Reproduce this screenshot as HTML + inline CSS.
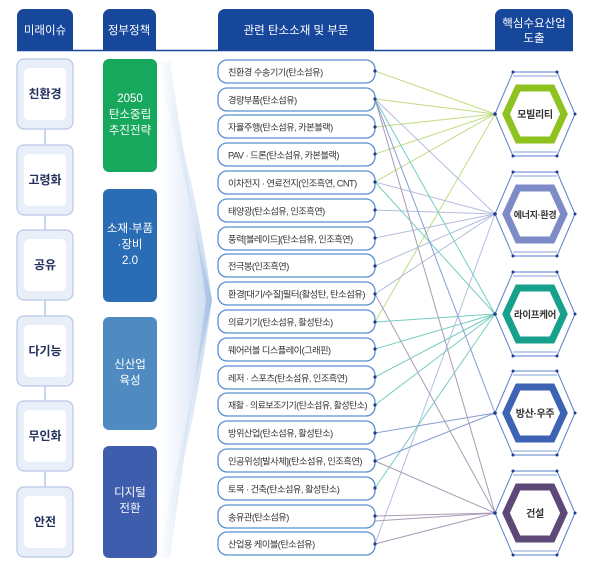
<!DOCTYPE html>
<html><head><meta charset="utf-8"><style>
html,body{margin:0;padding:0;background:#fff;}
svg{display:block;}
text{font-family:"Liberation Sans","Noto Sans CJK KR",sans-serif;}
</style></head><body>
<svg width="600" height="587" viewBox="0 0 600 587" xmlns="http://www.w3.org/2000/svg">
<defs>
<linearGradient id="ar" x1="0" x2="1" y1="0" y2="0">
<stop offset="0" stop-color="#ffffff"/><stop offset="0.5" stop-color="#dce7f5"/><stop offset="1" stop-color="#9fbde2"/>
</linearGradient>
<g id="hexo">
<polygon points="-40,0 -22,-42 22,-42 40,0 22,42 -22,42" fill="none" stroke="#5b7fc8" stroke-width="1"/>
<line x1="-22" y1="-38" x2="22" y2="-38" stroke="#5b7fc8" stroke-width="0.8"/>
<line x1="-22" y1="38" x2="22" y2="38" stroke="#5b7fc8" stroke-width="0.8"/>
<g fill="#1d3f8f"><circle cx="-22" cy="-42" r="1.5"/><circle cx="22" cy="-42" r="1.5"/><circle cx="-22" cy="42" r="1.5"/><circle cx="22" cy="42" r="1.5"/><circle cx="40" cy="0" r="1.5"/><circle cx="-40" cy="0" r="1.8"/></g>
</g>
</defs>
<g fill="#17479a">
<path d="M17,50 V16 a7,7 0 0 1 7,-7 H66 a7,7 0 0 1 7,7 V50Z"/>
<path d="M103,50 V16 a7,7 0 0 1 7,-7 H149 a7,7 0 0 1 7,7 V50Z"/>
<path d="M218,50 V16 a7,7 0 0 1 7,-7 H367 a7,7 0 0 1 7,7 V50Z"/>
<path d="M495,50 V16 a7,7 0 0 1 7,-7 H566 a7,7 0 0 1 7,7 V50Z"/>
</g>
<line x1="17" y1="50.5" x2="573" y2="50.5" stroke="#17479a" stroke-width="1.5"/>
<g fill="#fff" font-size="11.5" text-anchor="middle">
<text x="45" y="34">미래이슈</text>
<text x="129" y="34">정부정책</text>
<text x="296" y="34">관련 탄소소재 및 부문</text>
<text x="534" y="27">핵심수요산업</text>
<text x="534" y="42">도출</text>
</g>
<path d="M158,62 L212,300 L158,558 L170,558 L206,300 L170,62Z" fill="url(#ar)" opacity="0.9"/>
<path d="M160,62 C190,160 205,250 212,300 C205,350 190,450 160,558 Z" fill="url(#ar)" opacity="0.6"/>
<line x1="45" y1="100" x2="45" y2="520" stroke="#b9c8e6" stroke-width="1.5"/>
<g stroke="#b9c8e6" stroke-width="1.2">
<rect x="17" y="59" width="56" height="70" rx="7" fill="#e9eff9"/>
<rect x="17" y="145" width="56" height="70" rx="7" fill="#e9eff9"/>
<rect x="17" y="230" width="56" height="70" rx="7" fill="#e9eff9"/>
<rect x="17" y="316" width="56" height="70" rx="7" fill="#e9eff9"/>
<rect x="17" y="401" width="56" height="70" rx="7" fill="#e9eff9"/>
<rect x="17" y="487" width="56" height="70" rx="7" fill="#e9eff9"/>
</g>
<g fill="#fff">
<rect x="24" y="68" width="42" height="52" rx="5"/>
<rect x="24" y="154" width="42" height="52" rx="5"/>
<rect x="24" y="239" width="42" height="52" rx="5"/>
<rect x="24" y="325" width="42" height="52" rx="5"/>
<rect x="24" y="410" width="42" height="52" rx="5"/>
<rect x="24" y="496" width="42" height="52" rx="5"/>
</g>
<g fill="#24305e" font-size="12" font-weight="bold" text-anchor="middle">
<text x="45" y="98">친환경</text>
<text x="45" y="184">고령화</text>
<text x="45" y="269">공유</text>
<text x="45" y="355">다기능</text>
<text x="45" y="440">무인화</text>
<text x="45" y="526">안전</text>
</g>
<rect x="103" y="59" width="54" height="113" rx="6" fill="#17a85e"/>
<rect x="103" y="189" width="54" height="113" rx="6" fill="#2a6db4"/>
<rect x="103" y="317" width="54" height="113" rx="6" fill="#4f8bc1"/>
<rect x="103" y="446" width="54" height="112" rx="6" fill="#3e5ead"/>
<g fill="#fff" font-size="11.5" text-anchor="middle">
<text x="130" y="102">2050</text><text x="130" y="118">탄소중립</text><text x="130" y="134">추진전략</text>
<text x="130" y="232">소재·부품</text><text x="130" y="248">·장비</text><text x="130" y="264">2.0</text>
<text x="130" y="368">신산업</text><text x="130" y="384">육성</text>
<text x="130" y="496">디지털</text><text x="130" y="512">전환</text>
</g>
<g stroke-width="1" fill="none" opacity="0.85">
<g stroke="#b5d56a">
<line x1="375" y1="71" x2="495" y2="114"/><line x1="375" y1="99" x2="495" y2="114"/>
<line x1="375" y1="127" x2="495" y2="114"/><line x1="375" y1="154" x2="495" y2="114"/>
<line x1="375" y1="182" x2="495" y2="114"/><line x1="375" y1="322" x2="495" y2="114"/>
</g>
<g stroke="#a8b2d8">
<line x1="375" y1="99" x2="495" y2="214"/><line x1="375" y1="182" x2="495" y2="214"/>
<line x1="375" y1="210" x2="495" y2="214"/><line x1="375" y1="238" x2="495" y2="214"/>
<line x1="375" y1="266" x2="495" y2="214"/><line x1="375" y1="294" x2="495" y2="214"/>
<line x1="375" y1="544" x2="495" y2="214"/>
</g>
<g stroke="#5cc5b5">
<line x1="375" y1="99" x2="495" y2="314"/><line x1="375" y1="182" x2="495" y2="314"/>
<line x1="375" y1="322" x2="495" y2="314"/><line x1="375" y1="349" x2="495" y2="314"/>
<line x1="375" y1="377" x2="495" y2="314"/><line x1="375" y1="405" x2="495" y2="314"/>
<line x1="375" y1="488" x2="495" y2="314"/>
</g>
<g stroke="#6f8ccc">
<line x1="375" y1="99" x2="495" y2="413"/><line x1="375" y1="433" x2="495" y2="413"/>
<line x1="375" y1="461" x2="495" y2="413"/>
</g>
<g stroke="#9d8aab">
<line x1="375" y1="99" x2="495" y2="513"/><line x1="375" y1="294" x2="495" y2="513"/>
<line x1="375" y1="461" x2="495" y2="513"/><line x1="375" y1="516" x2="495" y2="513"/>
<line x1="375" y1="521" x2="495" y2="513"/><line x1="375" y1="544" x2="495" y2="513"/>
</g>
</g>
<g fill="#fff" stroke="#5b8fd0" stroke-width="1.3">
<rect x="218" y="60" width="157" height="23" rx="9"/>
<rect x="218" y="88" width="157" height="23" rx="9"/>
<rect x="218" y="115" width="157" height="23" rx="9"/>
<rect x="218" y="143" width="157" height="23" rx="9"/>
<rect x="218" y="171" width="157" height="23" rx="9"/>
<rect x="218" y="199" width="157" height="23" rx="9"/>
<rect x="218" y="227" width="157" height="23" rx="9"/>
<rect x="218" y="254" width="157" height="23" rx="9"/>
<rect x="218" y="282" width="157" height="23" rx="9"/>
<rect x="218" y="310" width="157" height="23" rx="9"/>
<rect x="218" y="338" width="157" height="23" rx="9"/>
<rect x="218" y="366" width="157" height="23" rx="9"/>
<rect x="218" y="393" width="157" height="23" rx="9"/>
<rect x="218" y="421" width="157" height="23" rx="9"/>
<rect x="218" y="449" width="157" height="23" rx="9"/>
<rect x="218" y="477" width="157" height="23" rx="9"/>
<rect x="218" y="505" width="157" height="23" rx="9"/>
<rect x="218" y="532" width="157" height="23" rx="9"/>
</g>
<g fill="#333" font-size="9.2" letter-spacing="-0.5">
<text x="228" y="75.5">친환경 수송기기(탄소섬유)</text>
<text x="228" y="103.5">경량부품(탄소섬유)</text>
<text x="228" y="130.5">자율주행(탄소섬유, 카본블랙)</text>
<text x="228" y="158.5">PAV · 드론(탄소섬유, 카본블랙)</text>
<text x="228" y="186.5">이차전지 · 연료전지(인조흑연, CNT)</text>
<text x="228" y="214.5">태양광(탄소섬유, 인조흑연)</text>
<text x="228" y="242.5">풍력[블레이드](탄소섬유, 인조흑연)</text>
<text x="228" y="269.5">전극봉(인조흑연)</text>
<text x="228" y="297.5" textLength="137" lengthAdjust="spacingAndGlyphs">환경[대기/수질]필터(활성탄, 탄소섬유)</text>
<text x="228" y="325.5">의료기기(탄소섬유, 활성탄소)</text>
<text x="228" y="353.5">웨어러블 디스플레이(그래핀)</text>
<text x="228" y="381.5">레저 · 스포츠(탄소섬유, 인조흑연)</text>
<text x="228" y="408.5" textLength="139" lengthAdjust="spacingAndGlyphs">재활 · 의료보조기기(탄소섬유, 활성탄소)</text>
<text x="228" y="436.5">방위산업(탄소섬유, 활성탄소)</text>
<text x="228" y="464.5" textLength="134" lengthAdjust="spacingAndGlyphs">인공위성[발사체](탄소섬유, 인조흑연)</text>
<text x="228" y="492.5">토목 · 건축(탄소섬유, 활성탄소)</text>
<text x="228" y="520.5">송유관(탄소섬유)</text>
<text x="228" y="547.5">산업용 케이블(탄소섬유)</text>
</g>
<g fill="#1d3f8f">
<circle cx="375" cy="71" r="1.6"/><circle cx="375" cy="99" r="1.6"/><circle cx="375" cy="127" r="1.6"/>
<circle cx="375" cy="154" r="1.6"/><circle cx="375" cy="182" r="1.6"/><circle cx="375" cy="210" r="1.6"/>
<circle cx="375" cy="238" r="1.6"/><circle cx="375" cy="266" r="1.6"/><circle cx="375" cy="294" r="1.6"/>
<circle cx="375" cy="322" r="1.6"/><circle cx="375" cy="349" r="1.6"/><circle cx="375" cy="377" r="1.6"/>
<circle cx="375" cy="405" r="1.6"/><circle cx="375" cy="433" r="1.6"/><circle cx="375" cy="461" r="1.6"/>
<circle cx="375" cy="488" r="1.6"/><circle cx="375" cy="516" r="1.6"/><circle cx="375" cy="544" r="1.6"/>
</g>
<g font-size="10" font-weight="bold" fill="#333" text-anchor="middle" letter-spacing="-0.3">
<g transform="translate(535,114)"><use href="#hexo"/>
<polygon points="-29,0 -17,-26 17,-26 29,0 17,26 -17,26" fill="#fff" stroke="#8dc21f" stroke-width="7"/>
<text x="0" y="4">모빌리티</text></g>
<g transform="translate(535,214)"><use href="#hexo"/>
<polygon points="-29,0 -17,-26 17,-26 29,0 17,26 -17,26" fill="#fff" stroke="#7d8cc6" stroke-width="7"/>
<text x="0" y="4" font-size="9">에너지·환경</text></g>
<g transform="translate(535,314)"><use href="#hexo"/>
<polygon points="-29,0 -17,-26 17,-26 29,0 17,26 -17,26" fill="#fff" stroke="#17a08c" stroke-width="7"/>
<text x="0" y="4" font-size="9.5">라이프케어</text></g>
<g transform="translate(535,413)"><use href="#hexo"/>
<polygon points="-29,0 -17,-26 17,-26 29,0 17,26 -17,26" fill="#fff" stroke="#3e63b5" stroke-width="7"/>
<text x="0" y="4">방산·우주</text></g>
<g transform="translate(535,513)"><use href="#hexo"/>
<polygon points="-29,0 -17,-26 17,-26 29,0 17,26 -17,26" fill="#fff" stroke="#5e4878" stroke-width="7"/>
<text x="0" y="4">건설</text></g>
</g>
</svg>
</body></html>
